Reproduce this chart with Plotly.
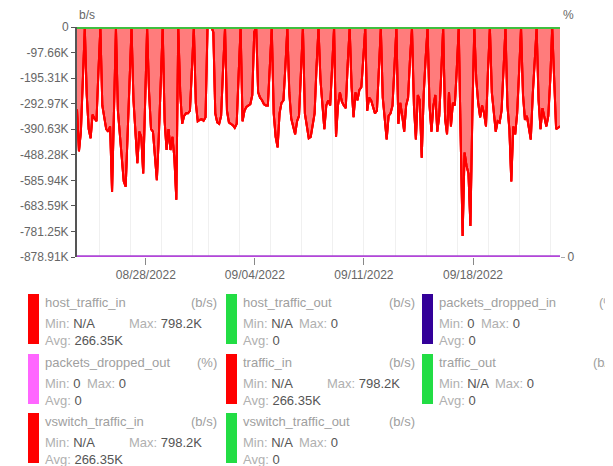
import pandas as pd
import plotly.graph_objects as go

# ---------------- data ----------------
START = "2022-08-23 14:00"
END = "2022-09-23 14:00"
# inbound traffic (K b/s, magnitude), one sample every 3 hours
TRAFFIC_IN_K = [
    315, 475, 400, 190,                      # 08/23 14..23h
    5, 260, 390, 425, 335, 350, 360, 170,    # 08/24
    5, 300, 350, 390, 400, 380, 630, 250,    # 08/25
    5, 320, 400, 500, 590, 610, 420, 200,    # 08/26
    5, 280, 400, 520, 400, 420, 560, 230,    # 08/27
    5, 250, 390, 400, 510, 585, 420, 220,    # 08/28
    5, 360, 470, 390, 470, 420, 500, 660,    # 08/29
    5, 250, 370, 340, 330, 330, 320, 160,    # 08/30
    5, 290, 360, 355, 352, 358, 345, 5,      # 08/31
    0, 0, 20, 330, 365, 370, 340, 160,       # 09/01
    5, 320, 365, 370, 375, 385, 370, 180,    # 09/02
    5, 360, 320, 305, 300, 295, 260, 20,     # 09/03
    0, 250, 270, 280, 295, 300, 300, 150,    # 09/04
    5, 330, 420, 460, 330, 290, 280, 150,    # 09/05
    5, 250, 350, 380, 410, 360, 340, 170,    # 09/06
    5, 330, 380, 425, 420, 370, 330, 150,    # 09/07
    5, 200, 280, 390, 300, 280, 300, 150,    # 09/08
    5, 420, 300, 250, 285, 300, 310, 140,    # 09/09
    5, 230, 345, 250, 280, 240, 230, 120,    # 09/10
    5, 320, 270, 280, 310, 330, 320, 170,    # 09/11
    5, 270, 350, 430, 340, 330, 300, 150,    # 09/12
    5, 370, 290, 340, 400, 300, 270, 120,    # 09/13
    5, 300, 430, 260, 280, 500, 260, 120,    # 09/14
    5, 300, 400, 300, 260, 400, 340, 180,    # 09/15
    5, 350, 410, 250, 380, 290, 300, 160,    # 09/16
    5, 420, 798.2, 480, 530, 560, 760, 330,  # 09/17
    5, 200, 290, 345, 300, 330, 380, 170,    # 09/18
    5, 250, 340, 400, 360, 365, 320, 170,    # 09/19
    5, 300, 390, 590, 380, 410, 330, 170,    # 09/20
    5, 260, 355, 340, 380, 430, 260, 150,    # 09/21
    5, 280, 390, 310, 340, 380, 340, 200,    # 09/22
    5, 220, 390, 385, 380,                   # 09/23 02..14h
]
TIMES = pd.date_range(START, END, freq="3h")

OUT_TIMES = [START, END]
TRAFFIC_OUT_K = [0, 0]
DROPPED_PCT = [0, 0]

Y_TICK_VALS = [0, -97.66, -195.31, -292.97, -390.63, -488.28, -585.94, -683.59, -781.25, -878.91]
Y_TICK_TEXT = ["0", "-97.66K", "-195.31K", "-292.97K", "-390.63K", "-488.28K",
               "-585.94K", "-683.59K", "-781.25K", "-878.91K"]
X_TICK_VALS = ["2022-08-28", "2022-09-04", "2022-09-11", "2022-09-18"]
X_TICK_TEXT = ["08/28/2022", "09/04/2022", "09/11/2022", "09/18/2022"]
GRID_DATES = ["2022-08-25", "2022-08-27", "2022-08-29", "2022-08-31", "2022-09-01",
              "2022-09-03", "2022-09-05", "2022-09-07", "2022-09-09", "2022-09-11",
              "2022-09-13", "2022-09-15", "2022-09-17", "2022-09-19", "2022-09-21",
              "2022-09-23"]

LEGEND_NAMES = ["host_traffic_in", "host_traffic_out", "packets_dropped_in",
                "packets_dropped_out", "traffic_in", "traffic_out",
                "vswitch_traffic_in", "vswitch_traffic_out"]
LEGEND_UNITS = ["(b/s)", "(b/s)", "(%)", "(%)", "(b/s)", "(b/s)", "(b/s)", "(b/s)"]
LEGEND_MIN = ["N/A", "N/A", "0", "0", "N/A", "N/A", "N/A", "N/A"]
LEGEND_MAX = ["798.2K", "0", "0", "0", "798.2K", "0", "798.2K", "0"]
LEGEND_AVG = ["266.35K", "0", "0", "0", "266.35K", "0", "266.35K", "0"]
LEGEND_COLORS = ["#ff0000", "#22dd44", "#330099", "#ff66ff",
                 "#ff0000", "#22dd44", "#ff0000", "#22dd44"]

# ---------------- figure ----------------
OFF = 8                     # page body margin
W, H = 613 - OFF, 466 - OFF
L, T = 77 - OFF, 27 - OFF
R = W - (560 - OFF)
B = H - (257 - OFF)
PW, PH = W - L - R, H - T - B
FONT = "Liberation Sans, Arial, sans-serif"


def px_x(px):
    return (px - OFF - L) / PW


def px_y(py):
    return (H - B - (py - OFF)) / PH


fig = go.Figure()

neg_in = [-v for v in TRAFFIC_IN_K]
for name in ["host_traffic_in", "traffic_in", "vswitch_traffic_in"]:
    fig.add_trace(go.Scatter(
        x=TIMES, y=neg_in, name=name, mode="lines",
        line=dict(color="#ff0000", width=2), fill="tozeroy",
        fillcolor="rgba(255,0,0,0.21)", showlegend=False, hoverinfo="skip"))

for name in ["host_traffic_out", "traffic_out", "vswitch_traffic_out"]:
    fig.add_trace(go.Scatter(
        x=OUT_TIMES, y=TRAFFIC_OUT_K, name=name, mode="lines",
        line=dict(color="#3fbf3f", width=4), cliponaxis=False,
        showlegend=False, hoverinfo="skip"))

fig.add_trace(go.Scatter(
    x=OUT_TIMES, y=DROPPED_PCT, name="packets_dropped_in", mode="lines", yaxis="y2",
    line=dict(color="#330099", width=3), cliponaxis=False, showlegend=False,
    hoverinfo="skip"))
fig.add_trace(go.Scatter(
    x=OUT_TIMES, y=DROPPED_PCT, name="packets_dropped_out", mode="lines", yaxis="y2",
    line=dict(color="#ff66ff", width=3), opacity=0.65, cliponaxis=False,
    showlegend=False, hoverinfo="skip"))

fig.update_layout(
    width=W, height=H, margin=dict(l=L, r=R, t=T, b=B, autoexpand=False),
    paper_bgcolor="white", plot_bgcolor="white",
    font=dict(family=FONT, size=12, color="#666"),
    xaxis=dict(
        type="date", range=[START, END], tickmode="array",
        tickvals=X_TICK_VALS, ticktext=X_TICK_TEXT, ticks="outside", ticklen=7,
        tickcolor="#888", tickwidth=1, showgrid=False, showline=False, zeroline=False,
        tickfont=dict(size=12, color="#666"),
        minor=dict(tickmode="array", tickvals=GRID_DATES, showgrid=True,
                   gridcolor="#f0f0f0", gridwidth=1, ticks=""),
    ),
    yaxis=dict(
        range=[-878.91, 0], tickmode="array", tickvals=Y_TICK_VALS,
        ticktext=Y_TICK_TEXT, ticks="outside", ticklen=4, tickcolor="#555",
        showline=True, linecolor="#555", linewidth=2, showgrid=False,
        zeroline=False, layer="below traces", tickfont=dict(size=12, color="#666"),
    ),
    yaxis2=dict(
        overlaying="y", side="right", range=[0, 1], tickmode="array",
        tickvals=[0], ticktext=["0"], ticks="outside", ticklen=4, tickcolor="#aaa",
        showline=False, showgrid=False, zeroline=False,
        tickfont=dict(size=12, color="#666"),
    ),
)

annotations = [
    dict(text="b/s", x=px_x(77), y=px_y(15), xanchor="left", yanchor="middle"),
    dict(text="%", x=px_x(561), y=px_y(15), xanchor="left", yanchor="middle"),
]
shapes = []

COL_X = [28, 226, 422]
ROW_Y = [294, 354, 413]
LF = dict(family=FONT, size=13)
LIGHT, DARK, NAMEC = "#b0b0b0", "#555", "#a0a0a0"

for i, name in enumerate(LEGEND_NAMES):
    c, r = i % 3, i // 3
    bx, by = COL_X[c], ROW_Y[r]
    shapes.append(dict(type="rect", xref="paper", yref="paper",
                       x0=px_x(bx), x1=px_x(bx + 11), y0=px_y(by), y1=px_y(by + 50),
                       fillcolor=LEGEND_COLORS[i], line=dict(width=0)))
    tx = bx + 15
    annotations.append(dict(text=name, x=px_x(tx), y=px_y(by + 8), xanchor="left",
                            yanchor="middle", font=dict(LF, color=NAMEC)))
    if c < 2:
        annotations.append(dict(text=LEGEND_UNITS[i], x=px_x(bx + 191), y=px_y(by + 8),
                                xanchor="right", yanchor="middle",
                                font=dict(LF, color=NAMEC)))
    else:
        ux = bx + 169 if LEGEND_UNITS[i] == "(b/s)" else bx + 175
        annotations.append(dict(text=LEGEND_UNITS[i], x=px_x(ux), y=px_y(by + 8),
                                xanchor="left", yanchor="middle",
                                font=dict(LF, color=NAMEC)))
    annotations.append(dict(
        text=f"<span style='color:{LIGHT}'>Min:</span> <span style='color:{DARK}'>{LEGEND_MIN[i]}</span>",
        x=px_x(tx), y=px_y(by + 29), xanchor="left", yanchor="middle", font=LF))
    if len(LEGEND_MAX[i]) > 2:
        mx = tx + 84
    else:
        mx = tx + (42 if LEGEND_MIN[i] == "0" else 56)
    annotations.append(dict(
        text=f"<span style='color:{LIGHT}'>Max:</span> <span style='color:{DARK}'>{LEGEND_MAX[i]}</span>",
        x=px_x(mx), y=px_y(by + 29), xanchor="left", yanchor="middle", font=LF))
    annotations.append(dict(
        text=f"<span style='color:{LIGHT}'>Avg:</span> <span style='color:{DARK}'>{LEGEND_AVG[i]}</span>",
        x=px_x(tx), y=px_y(by + 46), xanchor="left", yanchor="middle", font=LF))

for a in annotations:
    a.setdefault("xref", "paper")
    a.setdefault("yref", "paper")
    a.setdefault("showarrow", False)
    a.setdefault("font", dict(family=FONT, size=12, color="#666"))

fig.update_layout(annotations=annotations, shapes=shapes)
fig.write_html("out.html")
